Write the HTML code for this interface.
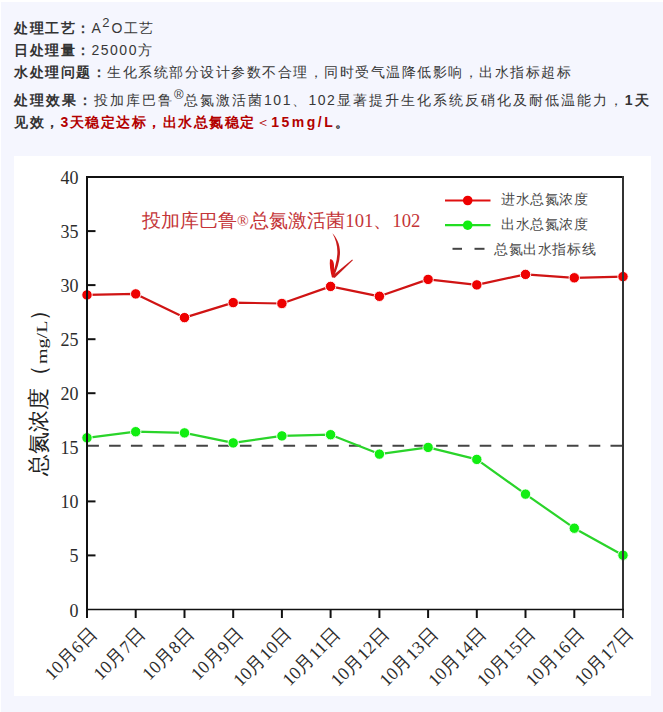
<!DOCTYPE html>
<html><head><meta charset="utf-8">
<style>
html,body{margin:0;padding:0;width:663px;height:712px;overflow:hidden;background:#fff;}
#bg{position:absolute;left:1px;top:2px;width:662px;height:710px;background:#f5f6fe;}
.ln{position:absolute;left:14px;white-space:nowrap;font-family:"Liberation Sans",sans-serif;font-size:14px;color:#383838;letter-spacing:1.5px;line-height:22px;}
.ln b{font-weight:bold;color:#333;}
.red{color:#b30000;font-weight:bold;}
sup{font-size:13px;vertical-align:top;line-height:10px;position:relative;top:1px;letter-spacing:0}
#box{position:absolute;left:14px;top:156px;width:637px;height:540px;background:#fff;}
svg{position:absolute;left:0;top:0;}
</style></head><body>
<div id="bg"></div>
<div class="ln" style="top:17px"><b>处理工艺：</b>A<sup style="letter-spacing:2px">2</sup>O工艺</div>
<div class="ln" style="top:39px"><b>日处理量：</b>25000方</div>
<div class="ln" style="top:61px"><b>水处理问题：</b>生化系统部分设计参数不合理，同时受气温降低影响，出水指标超标</div>
<div class="ln" style="top:89px;width:636px;text-align:justify;text-align-last:justify"><b>处理效果：</b>投加库巴鲁<sup>®</sup>总氮激活菌101、102显著提升生化系统反硝化及耐低温能力，<b>1天</b></div>
<div class="ln" style="top:111px"><b>见效，</b><span class="red">3天稳定达标，出水总氮稳定<span style="font-weight:normal">＜</span><span style="letter-spacing:2.5px">15mg/L</span></span><b>。</b></div>
<div id="box"></div>
<svg width="663" height="712" viewBox="0 0 663 712">
<line x1="87.3" y1="445.8" x2="622" y2="445.8" stroke="#444" stroke-width="2" stroke-dasharray="11.6 10.2"/>
<polyline points="87.0,294.9 135.7,293.9 184.5,317.6 233.2,302.6 281.9,303.5 330.6,286.4 379.4,296.3 428.1,279.4 476.8,284.9 525.5,274.4 574.3,277.8 623.0,276.6" fill="none" stroke="#d01414" stroke-width="2.2" stroke-linejoin="round"/>
<circle cx="87.0" cy="294.9" r="5.2" fill="#ee0000" stroke="#fff" stroke-width="0.9"/><circle cx="135.7" cy="293.9" r="5.2" fill="#ee0000" stroke="#fff" stroke-width="0.9"/><circle cx="184.5" cy="317.6" r="5.2" fill="#ee0000" stroke="#fff" stroke-width="0.9"/><circle cx="233.2" cy="302.6" r="5.2" fill="#ee0000" stroke="#fff" stroke-width="0.9"/><circle cx="281.9" cy="303.5" r="5.2" fill="#ee0000" stroke="#fff" stroke-width="0.9"/><circle cx="330.6" cy="286.4" r="5.2" fill="#ee0000" stroke="#fff" stroke-width="0.9"/><circle cx="379.4" cy="296.3" r="5.2" fill="#ee0000" stroke="#fff" stroke-width="0.9"/><circle cx="428.1" cy="279.4" r="5.2" fill="#ee0000" stroke="#fff" stroke-width="0.9"/><circle cx="476.8" cy="284.9" r="5.2" fill="#ee0000" stroke="#fff" stroke-width="0.9"/><circle cx="525.5" cy="274.4" r="5.2" fill="#ee0000" stroke="#fff" stroke-width="0.9"/><circle cx="574.3" cy="277.8" r="5.2" fill="#ee0000" stroke="#fff" stroke-width="0.9"/><circle cx="623.0" cy="276.6" r="5.2" fill="#ee0000" stroke="#fff" stroke-width="0.9"/>
<polyline points="87.0,437.8 135.7,431.7 184.5,432.9 233.2,442.9 281.9,435.9 330.6,434.7 379.4,454.1 428.1,447.4 476.8,459.4 525.5,494.1 574.3,528.2 623.0,555.2" fill="none" stroke="#2ad42a" stroke-width="2.2" stroke-linejoin="round"/>
<circle cx="87.0" cy="437.8" r="5.2" fill="#11ee11" stroke="#fff" stroke-width="0.9"/><circle cx="135.7" cy="431.7" r="5.2" fill="#11ee11" stroke="#fff" stroke-width="0.9"/><circle cx="184.5" cy="432.9" r="5.2" fill="#11ee11" stroke="#fff" stroke-width="0.9"/><circle cx="233.2" cy="442.9" r="5.2" fill="#11ee11" stroke="#fff" stroke-width="0.9"/><circle cx="281.9" cy="435.9" r="5.2" fill="#11ee11" stroke="#fff" stroke-width="0.9"/><circle cx="330.6" cy="434.7" r="5.2" fill="#11ee11" stroke="#fff" stroke-width="0.9"/><circle cx="379.4" cy="454.1" r="5.2" fill="#11ee11" stroke="#fff" stroke-width="0.9"/><circle cx="428.1" cy="447.4" r="5.2" fill="#11ee11" stroke="#fff" stroke-width="0.9"/><circle cx="476.8" cy="459.4" r="5.2" fill="#11ee11" stroke="#fff" stroke-width="0.9"/><circle cx="525.5" cy="494.1" r="5.2" fill="#11ee11" stroke="#fff" stroke-width="0.9"/><circle cx="574.3" cy="528.2" r="5.2" fill="#11ee11" stroke="#fff" stroke-width="0.9"/><circle cx="623.0" cy="555.2" r="5.2" fill="#11ee11" stroke="#fff" stroke-width="0.9"/>
<g stroke="#111" stroke-width="2" fill="none">
<line x1="87" y1="176" x2="87" y2="618"/>
<line x1="86" y1="177" x2="624" y2="177"/>
<line x1="623" y1="176" x2="623" y2="618" stroke="#333"/>
<line x1="86" y1="609.5" x2="624" y2="609.5" stroke-width="1.7"/>
<line x1="87" y1="555.4" x2="95.5" y2="555.4"/>
<line x1="87" y1="501.4" x2="95.5" y2="501.4"/>
<line x1="87" y1="393.2" x2="95.5" y2="393.2"/>
<line x1="87" y1="339.2" x2="95.5" y2="339.2"/>
<line x1="87" y1="285.1" x2="95.5" y2="285.1"/>
<line x1="87" y1="231.1" x2="95.5" y2="231.1"/>
<line x1="135.7" y1="609" x2="135.7" y2="618"/>
<line x1="184.5" y1="609" x2="184.5" y2="618"/>
<line x1="233.2" y1="609" x2="233.2" y2="618"/>
<line x1="281.9" y1="609" x2="281.9" y2="618"/>
<line x1="330.6" y1="609" x2="330.6" y2="618"/>
<line x1="379.4" y1="609" x2="379.4" y2="618"/>
<line x1="428.1" y1="609" x2="428.1" y2="618"/>
<line x1="476.8" y1="609" x2="476.8" y2="618"/>
<line x1="525.5" y1="609" x2="525.5" y2="618"/>
<line x1="574.3" y1="609" x2="574.3" y2="618"/>
</g>
<g font-family="Liberation Serif, serif" font-size="18" fill="#2c2c2c" text-anchor="end">
<text x="78.5" y="616.5">0</text>
<text x="78.5" y="562.4">5</text>
<text x="78.5" y="508.4">10</text>
<text x="78.5" y="454.3">15</text>
<text x="78.5" y="400.2">20</text>
<text x="78.5" y="346.2">25</text>
<text x="78.5" y="292.1">30</text>
<text x="78.5" y="238.1">35</text>
<text x="78.5" y="184.0">40</text>
</g>
<g font-family="Liberation Serif, serif" font-size="18" fill="#2c2c2c" text-anchor="end">
<text x="98.0" y="635" transform="rotate(-45 98.0 635)">10<tspan font-size="18.5">月</tspan>6<tspan font-size="18.5">日</tspan></text>
<text x="146.7" y="635" transform="rotate(-45 146.7 635)">10<tspan font-size="18.5">月</tspan>7<tspan font-size="18.5">日</tspan></text>
<text x="195.5" y="635" transform="rotate(-45 195.5 635)">10<tspan font-size="18.5">月</tspan>8<tspan font-size="18.5">日</tspan></text>
<text x="244.2" y="635" transform="rotate(-45 244.2 635)">10<tspan font-size="18.5">月</tspan>9<tspan font-size="18.5">日</tspan></text>
<text x="292.9" y="635" transform="rotate(-45 292.9 635)">10<tspan font-size="18.5">月</tspan>10<tspan font-size="18.5">日</tspan></text>
<text x="341.6" y="635" transform="rotate(-45 341.6 635)">10<tspan font-size="18.5">月</tspan>11<tspan font-size="18.5">日</tspan></text>
<text x="390.4" y="635" transform="rotate(-45 390.4 635)">10<tspan font-size="18.5">月</tspan>12<tspan font-size="18.5">日</tspan></text>
<text x="439.1" y="635" transform="rotate(-45 439.1 635)">10<tspan font-size="18.5">月</tspan>13<tspan font-size="18.5">日</tspan></text>
<text x="487.8" y="635" transform="rotate(-45 487.8 635)">10<tspan font-size="18.5">月</tspan>14<tspan font-size="18.5">日</tspan></text>
<text x="536.5" y="635" transform="rotate(-45 536.5 635)">10<tspan font-size="18.5">月</tspan>15<tspan font-size="18.5">日</tspan></text>
<text x="585.3" y="635" transform="rotate(-45 585.3 635)">10<tspan font-size="18.5">月</tspan>16<tspan font-size="18.5">日</tspan></text>
<text x="634.0" y="635" transform="rotate(-45 634.0 635)">10<tspan font-size="18.5">月</tspan>17<tspan font-size="18.5">日</tspan></text>
</g>
<g id="legend">
<line x1="445" y1="200.5" x2="490.5" y2="200.5" stroke="#e01010" stroke-width="2.2"/>
<circle cx="467.7" cy="200.5" r="4.8" fill="#ee0000"/>
<line x1="445" y1="225.2" x2="490.5" y2="225.2" stroke="#22dd22" stroke-width="2.2"/>
<circle cx="467.7" cy="225.2" r="4.8" fill="#11ee11"/>
<line x1="452.5" y1="248.8" x2="462" y2="248.8" stroke="#444" stroke-width="2"/>
<line x1="474.5" y1="248.8" x2="484.5" y2="248.8" stroke="#444" stroke-width="2"/>
<g font-family="Liberation Serif, serif" font-size="14" fill="#4a4a4a" letter-spacing="0.6">
<text x="501" y="204">进水总氮浓度</text>
<text x="501" y="229">出水总氮浓度</text>
<text x="494" y="254">总氮出水指标线</text>
</g>
</g>
<text x="141.5" y="227" font-family="Liberation Serif, serif" font-size="18.7" fill="#c43538">投加库巴鲁<tspan font-size="15.5" dy="-1" dx="0.5">®</tspan><tspan dy="1" dx="1.5">总氮激活菌101、102</tspan></text>
<g id="arrow" fill="#c81a1a">
<path d="M332.4,233.2 C336.8,238 339.9,244 340,252 C340,261 337.2,269 333.6,277 L331.8,276.6 C334.8,268 337.3,260 337.4,252 C337.4,245 335.5,238.5 332.4,233.2 Z"/>
<path d="M330,259.3 C331.8,258.8 333.6,260.5 334,264.5 L334,277.6 L332,277.6 C330.5,272 329.2,265 330,259.3 Z" fill="#dd1010"/>
<path d="M352.2,259.4 L352.9,260.3 L334.6,277.9 L332.2,276.1 Z"/>
</g>
<g font-family="Liberation Serif, serif" fill="#222">
<text transform="translate(46 476) rotate(-90)" font-size="22">总氮浓度<tspan dx="1">（</tspan></text>
<text transform="translate(46.5 364) rotate(-90) scale(1.18 0.92)" font-size="17">mg/L</text>
<text transform="translate(46 321) rotate(-90)" font-size="22">）</text>
</g>
</svg>
</body></html>
